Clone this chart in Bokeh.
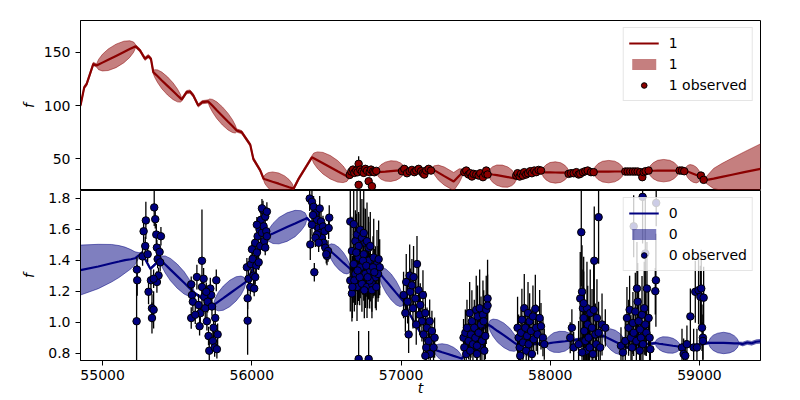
import numpy as np
from bokeh.plotting import figure
from bokeh.layouts import column
from bokeh.models import Range1d, FixedTicker, Legend, LegendItem, BasicTickFormatter, PrintfTickFormatter
from bokeh.embed import file_html
from bokeh.resources import INLINE

# ---------------- data ----------------
x_ticks = [55000, 56000, 57000, 58000, 59000]
top_ticks = [50, 100, 150]
bot_ticks = [0.8, 1.0, 1.2, 1.4, 1.6, 1.8]
t_range = (54852, 59409)
top_range = (20.3, 179.7)
bot_range = (0.754, 1.85)

# series "1" model (mean and half-width of band)
m1_t = [54852, 54877, 54893, 54938, 54960,
        54973, 54999, 55038, 55090, 55143, 55182, 55208,
        55221, 55251, 55284, 55306, 55324, 55340,
        55350, 55369, 55397, 55435, 55473, 55502, 55521,
        55530, 55563, 55586, 55608, 55641, 55668, 55708,
        55718, 55737, 55765, 55803, 55841, 55870, 55889,
        55898, 55932, 55990, 56010, 56057, 56079,
        56089, 56109, 56139, 56180, 56220, 56250, 56270,
        56280, 56314, 56403,
        56415, 56440, 56477, 56526, 56575, 56612, 56637,
        56649, 56700, 56750, 56800, 56839,
        56848, 56867, 56895, 56932, 56969, 56997, 57016,
        57025, 57100, 57208,
        57222, 57250, 57290, 57353, 57390, 57410,
        57420, 57500, 57587,
        57596, 57614, 57642, 57679, 57715, 57743, 57761,
        57770, 57850, 57945,
        57954, 57972, 57998, 58034, 58070, 58096, 58114,
        58123, 58200, 58291,
        58301, 58321, 58351, 58392, 58432, 58462, 58482,
        58492, 58600, 58660,
        58670, 58690, 58720, 58760, 58801, 58831, 58851,
        58861, 58905,
        58910, 58921, 58937, 58958, 58979, 58994, 59005,
        59010, 59033,
        59060, 59095, 59150, 59218, 59300, 59409]
m1_f = [100, 117, 120, 139, 137.5,
        138.4, 140.2, 142.9, 146.5, 150.2, 152.9, 154.7,
        155.6, 151.6, 143.8, 146.3, 143.8, 131.2,
        129.9, 127.4, 123.5, 118.4, 113.3, 109.4, 106.9,
        105.6, 112.5, 113.1, 109.4, 100, 103.1, 103.8,
        102.4, 99.7, 95.6, 90.2, 84.8, 80.7, 77.9,
        76.6, 75, 63, 50, 39, 31.3,
        30.8, 29.9, 28.5, 26.7, 24.8, 23.4, 22.5,
        22, 31.3, 51.5,
        50.6, 48.7, 45.9, 42.1, 38.3, 35.5, 33.6,
        32.7, 37, 37.5, 36.5, 37.4,
        37.5, 37.7, 38.0, 38.5, 38.9, 39.2, 39.4,
        39.5, 39, 40.5,
        39.4, 37.1, 33.8, 28.7, 34.1, 36.9,
        38.4, 35.5, 36,
        35.8, 35.3, 34.7, 33.8, 32.9, 32.2, 31.7,
        31.5, 36, 37.4,
        37.4, 37.3, 37.3, 37.2, 37.1, 37.1, 37.0,
        37, 36.5, 38,
        38, 38, 38, 38, 38.1, 38.1, 38.1,
        38.1, 37.8, 38.8,
        38.8, 38.8, 38.9, 38.9, 38.9, 39.0, 39.0,
        39, 39,
        38.7, 38.1, 37.2, 36, 34.8, 33.9, 33.3,
        33, 29.7,
        30.5, 31.5, 33.1, 35.1, 37.5, 40.6]
m1_hw = [1.5, 1.5, 1.5, 1.5, 1.5,
         4.8, 7.8, 10.1, 11, 10.1, 7.8, 4.8,
         1.5, 1.5, 1.5, 1.5, 1.5, 1.5,
         3.7, 6.0, 7.8, 8.5, 7.8, 6.0, 3.7,
         1.5, 1.5, 1.5, 1.5, 1.5, 1.5, 1.5,
         3.7, 6.0, 7.8, 8.5, 7.8, 6.0, 3.7,
         1.5, 1.5, 1.5, 1.5, 1.5, 1.5,
         4.4, 7.1, 9.2, 10, 9.2, 7.1, 4.4,
         1.5, 1.5, 1.5,
         4.8, 7.8, 10.1, 11, 10.1, 7.8, 4.8,
         1.5, 1.5, 1.5, 1.5, 1.5,
         4.3, 6.9, 8.9, 9.7, 8.9, 6.9, 4.3,
         1.5, 1.5, 1.5,
         4, 7, 8.5, 8.5, 6.5, 3.5,
         1.5, 1.5, 1.5,
         4.5, 7.3, 9.5, 10.3, 9.5, 7.3, 4.5,
         1.5, 1.5, 1.5,
         4.4, 7.1, 9.2, 10, 9.2, 7.1, 4.4,
         1.5, 1.5, 1.5,
         4.6, 7.5, 9.7, 10.5, 9.7, 7.5, 4.6,
         1.5, 1.5, 1.5,
         4.6, 7.5, 9.7, 10.5, 9.7, 7.5, 4.6,
         1.5, 1.5,
         3.5, 5.7, 7.4, 8, 7.4, 5.7, 3.5,
         1.5, 1.5,
         5, 9.5, 12.5, 15.5, 19, 23.4]

# series "1" observed
obs1_t = [56656, 56667, 56678, 56687, 56700, 56709, 56716, 56716, 56727, 56738, 56750, 56761, 56772, 56783, 56790, 56799, 56805, 56812, 56821, 56834,
          57006, 57022, 57040, 57058, 57073, 57089, 57102, 57118, 57134, 57147, 57156, 57169, 57185, 57201,
          57424, 57437, 57453, 57464, 57475, 57486, 57504, 57520, 57531, 57549, 57565, 57571, 57580,
          57772, 57781, 57795, 57804, 57817, 57826, 57839, 57851, 57866, 57877, 57893, 57906, 57922, 57938,
          58123, 58139, 58157, 58175, 58190, 58201, 58219, 58235, 58251, 58273, 58291,
          58503, 58519, 58536, 58554, 58570, 58586, 58603, 58617, 58626, 58639, 58659,
          58867, 58883, 58898,
          59010, 59028]
obs1_f = [34.9, 38.1, 39.9, 36.8, 39.0, 37.4, 45.3, 25.6, 39.9, 38.1, 36.8, 40.6, 38.7, 29.0, 37.4, 39.9, 24.3, 38.1, 37.4, 38.7,
          38.4, 40.6, 36.5, 38.4, 39.6, 37.5, 39.0, 40.6, 38.4, 36.5, 35.3, 39.0, 40.6, 39.0,
          37.5, 39.0, 35.3, 36.5, 33.4, 35.9, 35.3, 34.3, 36.5, 32.8, 35.9, 39.0, 35.3,
          34.3, 36.5, 33.4, 35.9, 34.3, 37.5, 35.3, 36.5, 38.4, 36.5, 39.0, 37.5, 39.6, 39.0,
          35.9, 36.5, 36.5, 37.5, 35.3, 35.9, 37.5, 38.4, 39.0, 37.5, 37.5,
          38.1, 38.1, 38.1, 38.1, 38.1, 38.1, 37.5, 32.8, 37.5, 38.4, 39.0,
          39.0, 39.0, 38.4,
          34.3, 30.3]
obs1_e = [1.5, 1.5, 1.5, 1.5, 1.5, 1.5, 7, 2, 1.5, 1.5, 1.5, 1.5, 1.5, 2, 1.5, 1.5, 2, 1.5, 1.5, 1.5,
          1.5, 1.5, 1.5, 1.5, 1.5, 1.5, 1.5, 1.5, 1.5, 1.5, 1.5, 1.5, 1.5, 1.5,
          1.5, 1.5, 1.5, 1.5, 1.5, 1.5, 1.5, 1.5, 1.5, 1.5, 1.5, 1.5, 1.5,
          1.5, 1.5, 1.5, 1.5, 1.5, 1.5, 1.5, 1.5, 1.5, 1.5, 1.5, 1.5, 1.5, 1.5,
          1.5, 1.5, 1.5, 1.5, 1.5, 1.5, 1.5, 1.5, 1.5, 1.5, 1.5,
          1.5, 1.5, 1.5, 1.5, 1.5, 1.5, 1.5, 2, 1.5, 1.5, 1.5,
          1.5, 1.5, 1.5,
          1.5, 1.5]

# series "0" model
m0_t = [54852, 54971, 55060, 55110, 55150, 55190, 55217, 55240, 55255,
        55262, 55320, 55386,
        55397, 55420, 55455, 55500, 55546, 55581, 55604,
        55615, 55660, 55700, 55744,
        55755, 55776, 55809, 55852, 55895, 55928, 55949,
        55960, 56000, 56050, 56102,
        56115, 56142, 56182, 56236, 56290, 56330, 56357,
        56370, 56400, 56450, 56510,
        56518, 56533, 56555, 56585, 56615, 56638, 56653,
        56660, 56700, 56760, 56820, 56850,
        56858, 56875, 56900, 56934, 56967, 56992, 57009,
        57017, 57060, 57120, 57170, 57219,
        57229, 57248, 57276, 57314, 57352, 57381, 57400,
        57409, 57450, 57500, 57587,
        57597, 57617, 57647, 57688, 57728, 57758, 57778,
        57788, 57850, 57967,
        57977, 57996, 58024, 58062, 58100, 58129, 58148,
        58157, 58250, 58358,
        58366, 58381, 58405, 58436, 58467, 58491, 58506,
        58514, 58600, 58704,
        58712, 58729, 58754, 58788, 58822, 58847, 58864,
        58872, 58950, 59062,
        59072, 59092, 59122, 59162, 59203, 59233, 59253,
        59263, 59290, 59320, 59350, 59380, 59409]
m0_f = [1.337, 1.36, 1.381, 1.392, 1.401, 1.407, 1.413, 1.43, 1.44,
        1.45, 1.345, 1.405,
        1.394, 1.373, 1.34, 1.298, 1.255, 1.222, 1.2,
        1.19, 1.16, 1.13, 1.112,
        1.119, 1.134, 1.156, 1.186, 1.216, 1.238, 1.253,
        1.26, 1.33, 1.46, 1.556,
        1.562, 1.573, 1.591, 1.614, 1.637, 1.655, 1.666,
        1.672, 1.64, 1.56, 1.475,
        1.468, 1.455, 1.436, 1.41, 1.383, 1.363, 1.35,
        1.344, 1.34, 1.33, 1.33, 1.323,
        1.314, 1.295, 1.266, 1.228, 1.19, 1.162, 1.143,
        1.133, 1.05, 0.95, 0.87, 0.825,
        0.822, 0.816, 0.807, 0.796, 0.784, 0.775, 0.769,
        0.766, 0.83, 0.92, 0.985,
        0.978, 0.965, 0.944, 0.917, 0.89, 0.869, 0.856,
        0.849, 0.86, 0.863,
        0.864, 0.866, 0.870, 0.874, 0.878, 0.882, 0.884,
        0.885, 0.9, 0.912,
        0.908, 0.901, 0.89, 0.875, 0.86, 0.849, 0.842,
        0.838, 0.855, 0.866,
        0.865, 0.862, 0.859, 0.854, 0.849, 0.846, 0.843,
        0.842, 0.85, 0.868,
        0.868, 0.868, 0.867, 0.867, 0.866, 0.865, 0.865,
        0.865, 0.86, 0.87, 0.865, 0.875, 0.878]
m0_hw = [0.161, 0.143, 0.121, 0.103, 0.084, 0.062, 0.042, 0.02, 0.008,
         0.008, 0.008, 0.008,
         0.034, 0.055, 0.072, 0.078, 0.072, 0.055, 0.034,
         0.008, 0.008, 0.008, 0.008,
         0.037, 0.06, 0.078, 0.085, 0.078, 0.06, 0.037,
         0.008, 0.008, 0.008, 0.008,
         0.04, 0.065, 0.085, 0.092, 0.085, 0.065, 0.04,
         0.008, 0.008, 0.008, 0.008,
         0.032, 0.051, 0.066, 0.072, 0.066, 0.051, 0.032,
         0.008, 0.008, 0.008, 0.008, 0.008,
         0.037, 0.06, 0.077, 0.084, 0.077, 0.06, 0.037,
         0.008, 0.008, 0.008, 0.008, 0.008,
         0.026, 0.043, 0.055, 0.06, 0.055, 0.043, 0.026,
         0.008, 0.008, 0.008, 0.008,
         0.035, 0.056, 0.073, 0.079, 0.073, 0.056, 0.035,
         0.008, 0.008, 0.008,
         0.03, 0.048, 0.063, 0.068, 0.063, 0.048, 0.03,
         0.008, 0.008, 0.008,
         0.033, 0.053, 0.068, 0.074, 0.068, 0.053, 0.033,
         0.008, 0.008, 0.008,
         0.023, 0.037, 0.048, 0.052, 0.048, 0.037, 0.023,
         0.008, 0.008, 0.008,
         0.03, 0.049, 0.063, 0.069, 0.063, 0.049, 0.03,
         0.008, 0.012, 0.012, 0.012, 0.012, 0.012]

# series "0" observed
obs0_t = [55230, 55232, 55228, 55268, 55275, 55290, 55286, 55302, 55308, 55324, 55331, 55331, 55342, 55346, 55353, 55360, 55364, 55369, 55364, 55375, 55386, 55391, 55382, 55342,
          55594, 55599, 55594, 55605, 55632, 55643, 55650, 55655, 55666, 55666, 55677, 55681, 55688, 55699, 55704, 55710, 55715, 55722, 55728, 55739, 55744, 55751, 55755, 55762, 55766, 55771, 55733, 55695, 55621,
          55972, 55967, 55972, 55978, 55990, 55994, 56001, 56005, 56012, 56016, 56023, 56030, 56034, 56039, 56046, 56052, 56057, 56061, 56068, 56075, 56079, 56084, 56090, 56097, 56101, 56068, 56034, 56023, 56090, 56101,
          56388, 56403, 56392, 56414, 56426, 56437, 56448, 56459, 56470, 56481, 56493, 56504, 56511, 56519, 56437, 56464, 56419, 56403, 56426, 56448, 56477, 56488, 56499, 56515, 56410, 56455,
          56660, 56683, 56694, 56705, 56716, 56727, 56738, 56750, 56761, 56772, 56783,
          56671, 56660, 56671, 56683, 56694, 56705, 56716, 56727, 56738, 56750, 56761, 56772, 56783, 56794, 56805, 56817, 56828, 56839, 56850, 56857,
          56794, 56805,
          56687, 56700, 56723, 56745, 56767, 56790, 56812, 56834, 56846,
          56674, 56709, 56754, 56776, 56821,
          56716, 56783,
          57017, 57029, 57035, 57044, 57058, 57062, 57073, 57080, 57084, 57096, 57107, 57118, 57125, 57129, 57140, 57147, 57151, 57163, 57169, 57174, 57185, 57192, 57196, 57207, 57218, 57225, 57163, 57102, 57051,
          57419, 57424, 57431, 57437, 57442, 57453, 57460, 57464, 57469, 57475, 57482, 57491, 57498, 57504, 57509, 57513, 57520, 57527, 57531, 57536, 57542, 57549, 57554, 57565, 57571, 57580, 57580, 57558, 57509,
          57781, 57788, 57795, 57799, 57804, 57810, 57817, 57826, 57833, 57839, 57844, 57851, 57855, 57862, 57871, 57877, 57884, 57889, 57900, 57906, 57915, 57929, 57938, 57951, 57960,
          58134, 58145, 58157, 58201, 58208, 58213, 58219, 58224, 58228, 58235, 58242, 58246, 58251, 58257, 58264, 58268, 58280, 58286, 58291, 58295, 58302, 58309, 58313, 58324, 58324, 58335, 58347, 58369, 58224, 58190, 58213,
          58474, 58487, 58503, 58514, 58525, 58532, 58541, 58548, 58554, 58559, 58570, 58577, 58581, 58586, 58592, 58599, 58603, 58608, 58615, 58619, 58621, 58630, 58637, 58637, 58644, 58648, 58659, 58666, 58671, 58704, 58708, 58710, 58559,
          58883, 58894, 58905, 58916, 58939, 58961, 58972, 58983, 58994, 59006, 59012, 59017, 59023, 59028, 59023]
obs0_f = [1.340, 1.271, 1.007, 1.425, 1.587, 1.657, 1.492, 1.439, 1.197, 1.271, 1.091, 1.028, 1.081, 1.741, 1.665, 1.566, 1.482, 1.408, 1.26, 1.302, 1.387, 1.555, 1.454, 1.281,
          1.245, 1.176, 1.028, 1.133, 1.292, 1.112, 0.975, 1.059, 1.397, 1.228, 1.281, 1.165, 1.091, 1.007, 1.133, 0.912, 0.817, 1.218, 1.176, 0.88, 0.965, 0.838, 1.028, 1.271, 0.827, 0.922, 1.102, 1.197, 1.049,
          1.011, 1.355, 1.155, 1.281, 1.228, 1.376, 1.471, 1.408, 1.302, 1.218, 1.513, 1.366, 1.45, 1.555, 1.387, 1.598, 1.492, 1.661, 1.577, 1.724, 1.619, 1.524, 1.682, 1.587, 1.555, 1.735, 1.629, 1.292, 1.482, 1.714,
          1.798, 1.777, 1.502, 1.745, 1.703, 1.661, 1.608, 1.576, 1.545, 1.513, 1.481, 1.428, 1.46, 1.675, 1.566, 1.65, 1.323, 1.629, 1.545, 1.513, 1.618, 1.587, 1.439, 1.608, 1.692, 1.734,
          1.65, 1.633, 1.523, 1.566, 1.492, 1.597, 1.545, 1.576, 1.513, 1.523, 1.481,
          1.46, 1.27, 1.186, 1.376, 1.312, 1.228, 1.418, 1.355, 1.249, 1.439, 1.312, 1.228, 1.397, 1.334, 1.249, 1.418, 1.291, 1.376, 1.407, 1.355,
          1.492, 1.207,
          1.27, 1.45, 1.291, 1.397, 1.365, 1.27, 1.355, 1.228, 1.312,
          1.228, 1.334, 1.207, 1.291, 1.323,
          0.764, 0.764,
          1.176, 1.06, 1.26, 1.133, 1.302, 1.197, 1.239, 1.091, 1.292, 1.154, 1.376, 1.207, 1.049, 1.112, 1.007, 1.176, 0.922, 1.06, 0.838, 0.965, 0.88, 1.007, 0.796, 0.944, 0.838, 0.901, 0.785, 0.986, 0.922,
          0.901, 0.838, 0.933, 0.796, 0.965, 0.88, 1.06, 0.817, 0.922, 1.007, 0.859, 0.965, 0.901, 1.081, 0.796, 1.038, 0.933, 1.091, 0.838, 0.986, 0.88, 1.049, 1.007, 0.912, 1.081, 1.154, 1.108, 0.817, 0.849,
          0.965, 0.901, 0.838, 0.785, 0.933, 1.017, 0.87, 1.091, 0.965, 0.817, 0.912, 1.06, 0.859, 1.007, 0.944, 0.796, 1.038, 0.891, 1.087, 0.965, 0.922, 1.028, 0.975, 0.901, 0.859,
          0.901, 0.965, 0.838, 1.154, 1.581, 1.197, 1.091, 1.028, 0.944, 0.88, 0.817, 1.091, 0.986, 0.901, 0.838, 1.06, 0.965, 0.796, 1.081, 1.397, 0.922, 0.859, 1.028, 1.678, 0.933, 0.838, 0.986, 0.965, 1.123, 0.859, 0.806,
          0.849, 0.806, 0.88, 1.028, 0.965, 1.081, 0.901, 0.838, 0.996, 0.933, 1.07, 0.88, 1.218, 1.133, 1.007, 0.817, 0.954, 0.901, 1.049, 1.809, 0.859, 1.091, 1.444, 0.986, 0.933, 1.218, 1.028, 0.901, 0.827, 1.201, 1.271, 1.77, 1.619,
          0.838, 0.796, 0.785, 0.859, 1.038, 0.838, 1.197, 0.838, 1.207, 1.165, 1.218, 0.965, 0.901, 1.159, 0.88]
obs0_e = [0.08, 0.1, 0.27, 0.06, 0.07, 0.12, 0.06, 0.05, 0.08, 0.07, 0.09, 0.1, 0.12, 0.12, 0.06, 0.07, 0.05, 0.06, 0.07, 0.05, 0.06, 0.06, 0.05, 0.06,
          0.05, 0.06, 0.07, 0.06, 0.08, 0.07, 0.06, 0.07, 0.33, 0.06, 0.07, 0.06, 0.07, 0.06, 0.07, 0.06, 0.06, 0.07, 0.06, 0.07, 0.06, 0.06, 0.08, 0.07, 0.06, 0.07, 0.06, 0.06, 0.06,
          0.22, 0.06, 0.07, 0.05, 0.05, 0.06, 0.05, 0.05, 0.06, 0.05, 0.05, 0.06, 0.05, 0.05, 0.05, 0.05, 0.05, 0.06, 0.05, 0.06, 0.05, 0.05, 0.05, 0.05, 0.05, 0.06, 0.05, 0.05, 0.05, 0.06,
          0.08, 0.08, 0.1, 0.07, 0.07, 0.06, 0.07, 0.06, 0.07, 0.06, 0.07, 0.06, 0.07, 0.08, 0.06, 0.07, 0.06, 0.07, 0.06, 0.06, 0.07, 0.06, 0.06, 0.07, 0.07, 0.08,
          0.25, 0.3, 0.2, 0.28, 0.22, 0.3, 0.25, 0.3, 0.22, 0.25, 0.2,
          0.22, 0.2, 0.18, 0.25, 0.2, 0.22, 0.28, 0.2, 0.18, 0.3, 0.22, 0.2, 0.25, 0.2, 0.18, 0.25, 0.2, 0.22, 0.25, 0.18,
          0.22, 0.18,
          0.2, 0.25, 0.18, 0.22, 0.2, 0.18, 0.2, 0.15, 0.18,
          0.2, 0.22, 0.18, 0.2, 0.15,
          0.18, 0.18,
          0.15, 0.12, 0.18, 0.14, 0.2, 0.15, 0.17, 0.13, 0.2, 0.15, 0.18, 0.15, 0.13, 0.14, 0.13, 0.16, 0.12, 0.14, 0.12, 0.13, 0.12, 0.14, 0.12, 0.13, 0.12, 0.13, 0.1, 0.13, 0.12,
          0.12, 0.1, 0.15, 0.1, 0.18, 0.12, 0.2, 0.1, 0.15, 0.2, 0.12, 0.18, 0.13, 0.22, 0.1, 0.2, 0.15, 0.25, 0.12, 0.18, 0.13, 0.22, 0.2, 0.15, 0.22, 0.25, 0.2, 0.1, 0.12,
          0.2, 0.15, 0.12, 0.1, 0.15, 0.2, 0.12, 0.22, 0.15, 0.1, 0.13, 0.2, 0.12, 0.18, 0.14, 0.1, 0.2, 0.12, 0.22, 0.15, 0.13, 0.18, 0.15, 0.12, 0.1,
          0.1, 0.12, 0.1, 0.3, 0.35, 0.3, 0.25, 0.3, 0.25, 0.2, 0.2, 0.3, 0.25, 0.2, 0.2, 0.28, 0.25, 0.15, 0.3, 0.35, 0.2, 0.2, 0.25, 0.3, 0.2, 0.15, 0.2, 0.12, 0.3, 0.15, 0.15,
          0.12, 0.1, 0.15, 0.2, 0.18, 0.22, 0.15, 0.12, 0.2, 0.15, 0.25, 0.15, 0.3, 0.25, 0.2, 0.1, 0.2, 0.15, 0.25, 0.3, 0.12, 0.3, 0.35, 0.2, 0.15, 0.3, 0.2, 0.15, 0.1, 0.15, 0.3, 0.15, 0.2,
          0.12, 0.1, 0.1, 0.12, 0.18, 0.12, 0.2, 0.12, 0.22, 0.2, 0.25, 0.15, 0.15, 0.2, 0.12]

assert len(m1_t) == len(m1_f) == len(m1_hw), (len(m1_t), len(m1_f), len(m1_hw))
assert len(m0_t) == len(m0_f) == len(m0_hw), (len(m0_t), len(m0_f), len(m0_hw))
assert len(obs1_t) == len(obs1_f) == len(obs1_e), (len(obs1_t), len(obs1_f), len(obs1_e))
assert len(obs0_t) == len(obs0_f) == len(obs0_e), (len(obs0_t), len(obs0_f), len(obs0_e))

# ---------------- plotting ----------------
FONT = "DejaVu Sans"
x_range = Range1d(*t_range)


def style_axes(p):
    p.xgrid.visible = False
    p.ygrid.visible = False
    p.outline_line_color = "black"
    p.outline_line_width = 1
    p.background_fill_color = "white"
    p.border_fill_color = "white"
    for ax in p.axis:
        ax.major_tick_in = 0
        ax.minor_tick_in = 0
        ax.minor_tick_out = 0
        ax.axis_line_color = "black"
        ax.major_tick_line_color = "black"
        ax.major_label_text_font = FONT
        ax.major_label_text_font_size = "14px"
        ax.major_label_text_color = "black"
        ax.axis_label_text_font = FONT
        ax.axis_label_text_font_size = "14px"
        ax.axis_label_text_font_style = "italic"
        ax.axis_label_text_color = "black"


def draw_series(p, mt, mf, mhw, ot, of, oe, color, label):
    mt = np.array(mt, float)
    mf = np.array(mf, float)
    mhw = np.array(mhw, float)
    lo = mf - mhw
    hi = mf + mhw
    band = p.varea(x=mt, y1=lo, y2=hi, fill_color=color, fill_alpha=0.5)
    p.line(mt, lo, line_color=color, line_alpha=0.5, line_width=1)
    p.line(mt, hi, line_color=color, line_alpha=0.5, line_width=1)
    ln = p.line(mt, mf, line_color=color, line_width=2.2)
    ot = np.array(ot, float)
    of = np.array(of, float)
    oe = np.array(oe, float)
    p.segment(x0=ot, y0=of - oe, x1=ot, y1=of + oe, line_color="black", line_width=1.3)
    pts = p.scatter(ot, of, size=7.5, fill_color=color, line_color="black", line_width=1)
    legend = Legend(items=[LegendItem(label=label, renderers=[ln]),
                           LegendItem(label=label, renderers=[band]),
                           LegendItem(label=label + " observed", renderers=[pts])],
                    location="top_right")
    legend.label_text_font = FONT
    legend.label_text_font_size = "14px"
    legend.label_text_color = "black"
    legend.glyph_width = 30
    legend.glyph_height = 14
    legend.label_height = 20
    legend.label_standoff = 10
    legend.spacing = 1
    legend.padding = 5
    legend.margin = 7
    legend.border_line_color = "#cccccc"
    legend.border_line_width = 1
    legend.background_fill_color = "white"
    legend.background_fill_alpha = 0.8
    p.add_layout(legend)


top = figure(width=800, height=190, x_range=x_range, y_range=Range1d(*top_range),
             output_backend="svg", toolbar_location=None, x_axis_location=None,
             min_border_left=80, min_border_right=40, min_border_top=20, min_border_bottom=0)
top.yaxis.ticker = FixedTicker(ticks=top_ticks)
top.yaxis.axis_label = "f"
top.yaxis.major_tick_out = 5
top.yaxis.major_label_standoff = 5
top.yaxis.axis_label_standoff = 4
style_axes(top)
draw_series(top, m1_t, m1_f, m1_hw, obs1_t, obs1_f, obs1_e, "#8b0000", "1")

bot = figure(width=800, height=210, x_range=x_range, y_range=Range1d(*bot_range),
             output_backend="svg", toolbar_location=None,
             min_border_left=80, min_border_right=40, min_border_top=0, min_border_bottom=40)
bot.yaxis.ticker = FixedTicker(ticks=bot_ticks)
bot.yaxis.axis_label = "f"
bot.yaxis.major_tick_out = 5
bot.yaxis.major_label_standoff = 5
bot.yaxis.axis_label_standoff = 8
bot.yaxis.formatter = PrintfTickFormatter(format="%.1f")
bot.xaxis.ticker = FixedTicker(ticks=x_ticks)
bot.xaxis.formatter = BasicTickFormatter(use_scientific=False)
bot.xaxis.axis_label = "t"
bot.xaxis.major_tick_out = 5
bot.xaxis.major_label_standoff = 4
bot.xaxis.axis_label_standoff = -3
style_axes(bot)
draw_series(bot, m0_t, m0_f, m0_hw, obs0_t, obs0_f, obs0_e, "#000080", "0")

layout = column(top, bot, spacing=0)
open("out.html", "w").write(file_html(layout, INLINE))
